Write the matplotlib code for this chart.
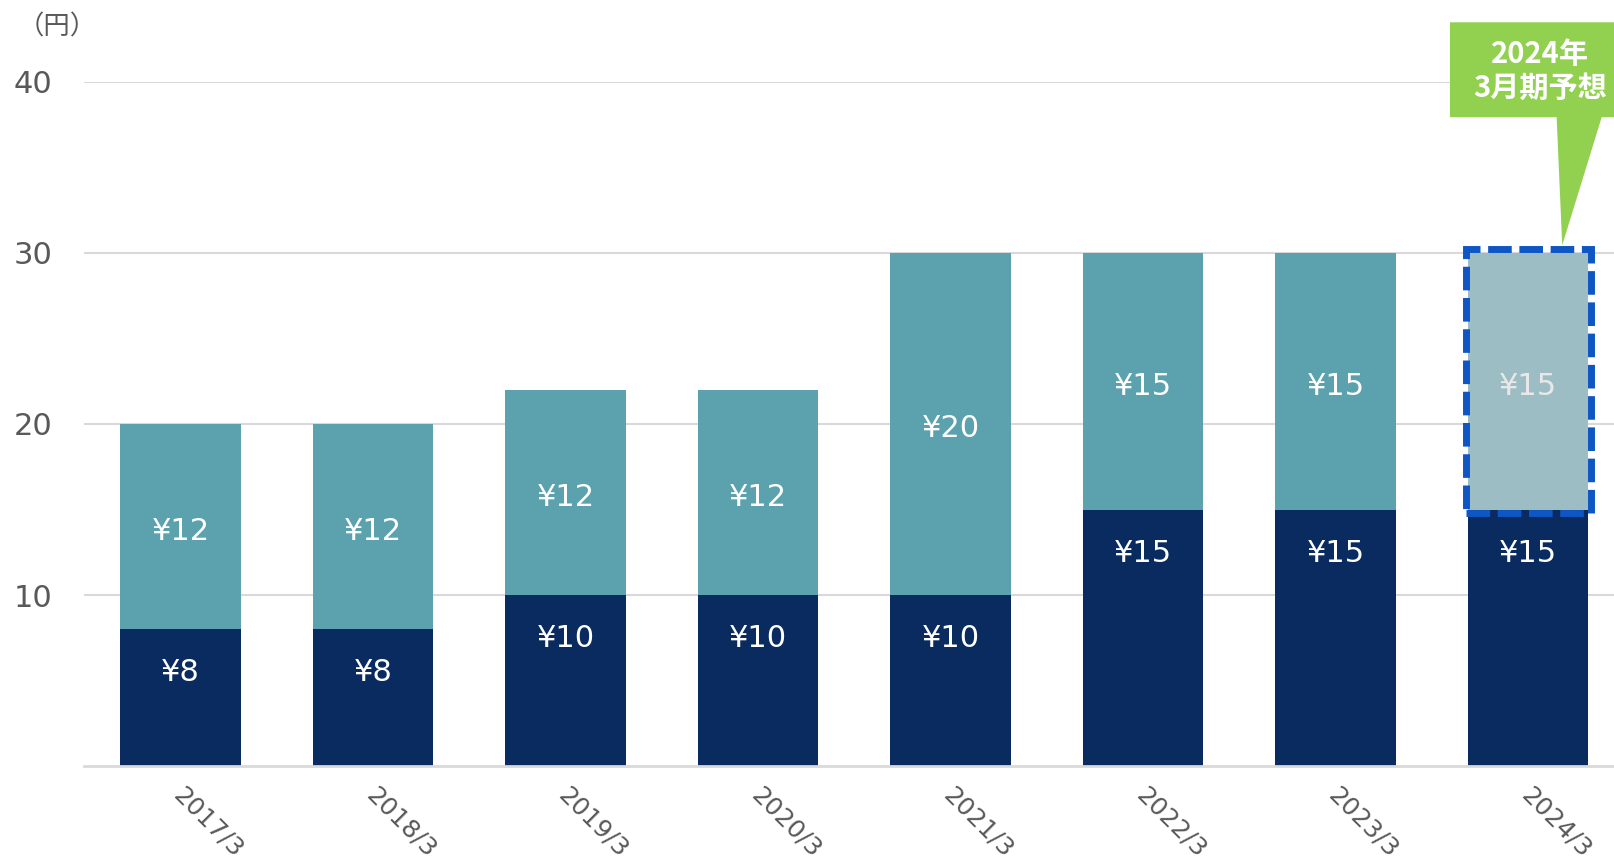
import matplotlib
matplotlib.use("Agg")
import matplotlib.pyplot as plt
from matplotlib.patches import Rectangle, Polygon
from matplotlib.transforms import ScaledTranslation

categories = ['2017/3', '2018/3', '2019/3', '2020/3', '2021/3', '2022/3', '2023/3', '2024/3']
interim = [8, 8, 10, 10, 10, 15, 15, 15]
year_end = [12, 12, 12, 12, 20, 15, 15, 15]
yticks = [10, 20, 30, 40]
unit_label = '（円）'
callout_lines = ['2024年', '3月期予想']

plt.rcParams['font.family'] = ['DejaVu Sans', 'Noto Sans CJK JP']

NAVY = '#0A2B5F'
TEAL = '#5BA2AE'
LIGHT = '#9DBDC5'
GREY = '#595959'
GRID = '#D9D9D9'
DASH = '#0E56C4'
GREEN = '#92D050'

fig = plt.figure(figsize=(16.14, 8.61), dpi=100)
ax = fig.add_axes([0.0522, 0.1103, 0.9478, 0.7945])

x = list(range(len(categories)))
w = 0.626
upper_colors = [TEAL] * (len(categories) - 1) + [LIGHT]
ax.bar(x, interim, width=w, color=NAVY, zorder=2)
ax.bar(x, year_end, width=w, bottom=interim, color=upper_colors, zorder=2)

for i in x:
    ax.annotate(f'¥{interim[i]}', (i, interim[i]), xytext=(0, -31.5), textcoords='offset points',
                ha='center', va='center', color='white', fontsize=22, zorder=4)
    col = '#E8E8E8' if i == len(categories) - 1 else 'white'
    ax.annotate(f'¥{year_end[i]}', (i, interim[i] + year_end[i] / 2), xytext=(0, -3.5),
                textcoords='offset points', ha='center', va='center',
                color=col, fontsize=22, zorder=4)

ax.set_xlim(-0.5, 7.446)
ax.set_ylim(0, 40)
ax.set_yticks(yticks)
ax.set_yticklabels([str(v) for v in yticks], fontsize=22, color=GREY)
ax.set_xticks(x)
ax.set_xticklabels(categories, rotation=-45, ha='left', rotation_mode='anchor',
                   fontsize=18, color=GREY)
ax.tick_params(axis='y', length=0, pad=23)
ax.tick_params(axis='x', length=0, pad=12)
shift = ScaledTranslation(5 / 100, 0, fig.dpi_scale_trans)
for lbl in ax.get_xticklabels():
    lbl.set_transform(lbl.get_transform() + shift)
ax.grid(axis='y', color=GRID, linewidth=1.5, zorder=0)
for s in ['top', 'right', 'left']:
    ax.spines[s].set_visible(False)
ax.spines['bottom'].set_color(GRID)
ax.spines['bottom'].set_linewidth(2)
ax.spines['bottom'].set_zorder(3)

# dashed highlight box around forecast
last = len(categories) - 1
rect = Rectangle((last - w / 2 - 0.012, interim[last] - 0.18), w + 0.024,
                 year_end[last] + 0.43, fill=False, edgecolor=DASH, linewidth=5,
                 linestyle=(0, (3.4, 1.1)), zorder=5, clip_on=False)
ax.add_patch(rect)

# callout
box = Polygon([(6.594, 43.49), (7.446, 43.49), (7.446, 37.94), (7.382, 37.94),
               (7.177, 30.45), (7.148, 37.94), (6.594, 37.94)],
              closed=True, facecolor=GREEN, edgecolor='none', zorder=6, clip_on=False)
ax.add_patch(box)
ax.text(7.06, 41.65, callout_lines[0], ha='center', va='center', color='white',
        fontsize=21, fontweight='bold', family=['Noto Sans CJK JP', 'DejaVu Sans'], zorder=7)
ax.text(7.06, 39.65, callout_lines[1], ha='center', va='center', color='white',
        fontsize=21, fontweight='bold', family=['Noto Sans CJK JP', 'DejaVu Sans'], zorder=7)

fig.text(57 / 1614, 1 - 27 / 861, unit_label, ha='center', va='center', color=GREY,
         fontsize=19, family=['Noto Sans CJK JP', 'DejaVu Sans'])

fig.savefig('out.png', dpi=100)
